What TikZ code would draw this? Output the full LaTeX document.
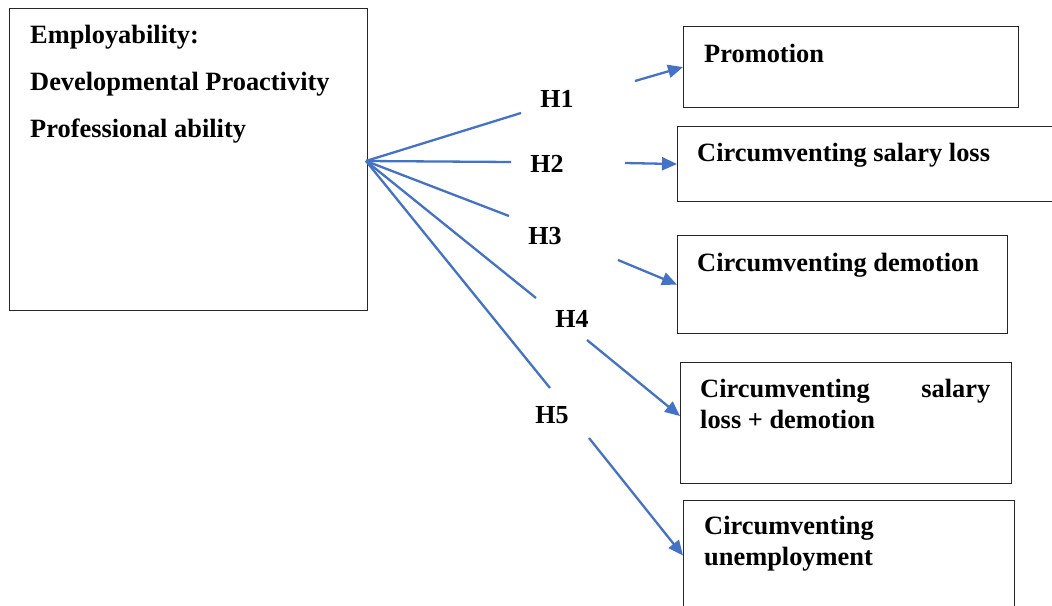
\documentclass[tikz,border=0pt]{standalone}
\usepackage{fontspec}
\setmainfont{Liberation Serif}
\usetikzlibrary{arrows.meta,calc}
\definecolor{linkblue}{HTML}{4472C4}
\begin{document}
\begin{tikzpicture}[x=1pt,y=-1pt,
  box/.style={draw=black!85,line width=1.1pt,inner sep=0pt,anchor=north west},
  txt/.style={inner sep=0pt,anchor=base west,font=\fontsize{26.4}{31}\selectfont\bfseries},
  hlab/.style={inner sep=0pt,anchor=base,font=\fontsize{26}{31}\selectfont\bfseries},
  link/.style={draw=linkblue,line width=2.3pt},
  arr/.style={link,-{Triangle[length=15pt,width=13pt]}}]
\useasboundingbox[fill=white] (0,0) rectangle (1052,605);
% boxes
\node[box,minimum width=358pt,minimum height=302pt] (emp) at (9,8) {};
\node[box,minimum width=335pt,minimum height=81pt] (promo) at (683,26) {};
\node[box,minimum width=390pt,minimum height=75pt] (sal) at (677,126) {};
\node[box,minimum width=330pt,minimum height=98pt] (dem) at (677,235) {};
\node[box,minimum width=331pt,minimum height=121pt] (sd) at (680,362) {};
\node[box,minimum width=331pt,minimum height=110pt] (unemp) at (683,500) {};
% texts
\node[txt] (empA) at (30,43) {Employability:};
\node[txt] (empB) at (30,90) {Developmental Proactivity};
\node[txt] (empC) at (30,137) {Professional ability};
\node[txt] (promoT) at (704,62) {Promotion};
\node[txt] (salT) at (697,161) {Circumventing salary loss};
\node[txt] (demT) at (697,271) {Circumventing demotion};
\node[txt] (sdA) at (700,397) {\makebox[290pt][l]{Circumventing\hfill salary}};
\node[txt] (sdB) at (700,428) {loss + demotion};
\node[txt] (unA) at (704,534) {Circumventing};
\node[txt] (unB) at (704,565) {unemployment};
% hypothesis labels
\node[hlab] (h1) at (557,107) {H1};
\node[hlab] (h2) at (547,172) {H2};
\node[hlab] (h3) at (545,244) {H3};
\node[hlab] (h4) at (572,327) {H4};
\node[hlab] (h5) at (552,423) {H5};
% coordinates
\coordinate (hub) at (366,161);
\coordinate (e1) at (521,113);
\coordinate (e2) at (511,162);
\coordinate (e3) at (509,216);
\coordinate (e4) at (536,298);
\coordinate (e5) at (550,388);
\coordinate (s1) at (635,81);
\coordinate (s2) at (625,163);
\coordinate (s3) at (618,260);
\coordinate (s4) at (587,340);
\coordinate (s5) at (589,438);
% connectors
\draw[link] (hub) -- (e1);
\draw[link] (hub) -- (e2);
\draw[link] (hub) -- (e3);
\draw[link] (hub) -- (e4);
\draw[link] (hub) -- (e5);
\draw[arr] (s1) -- (promo.west);
\draw[arr] (s2) -- (sal.west);
\draw[arr] (s3) -- (dem.west);
\draw[arr] (s4) -- ([yshift=7pt]sd.west);
\draw[arr] (s5) -- (unemp.west);
\end{tikzpicture}
\end{document}
